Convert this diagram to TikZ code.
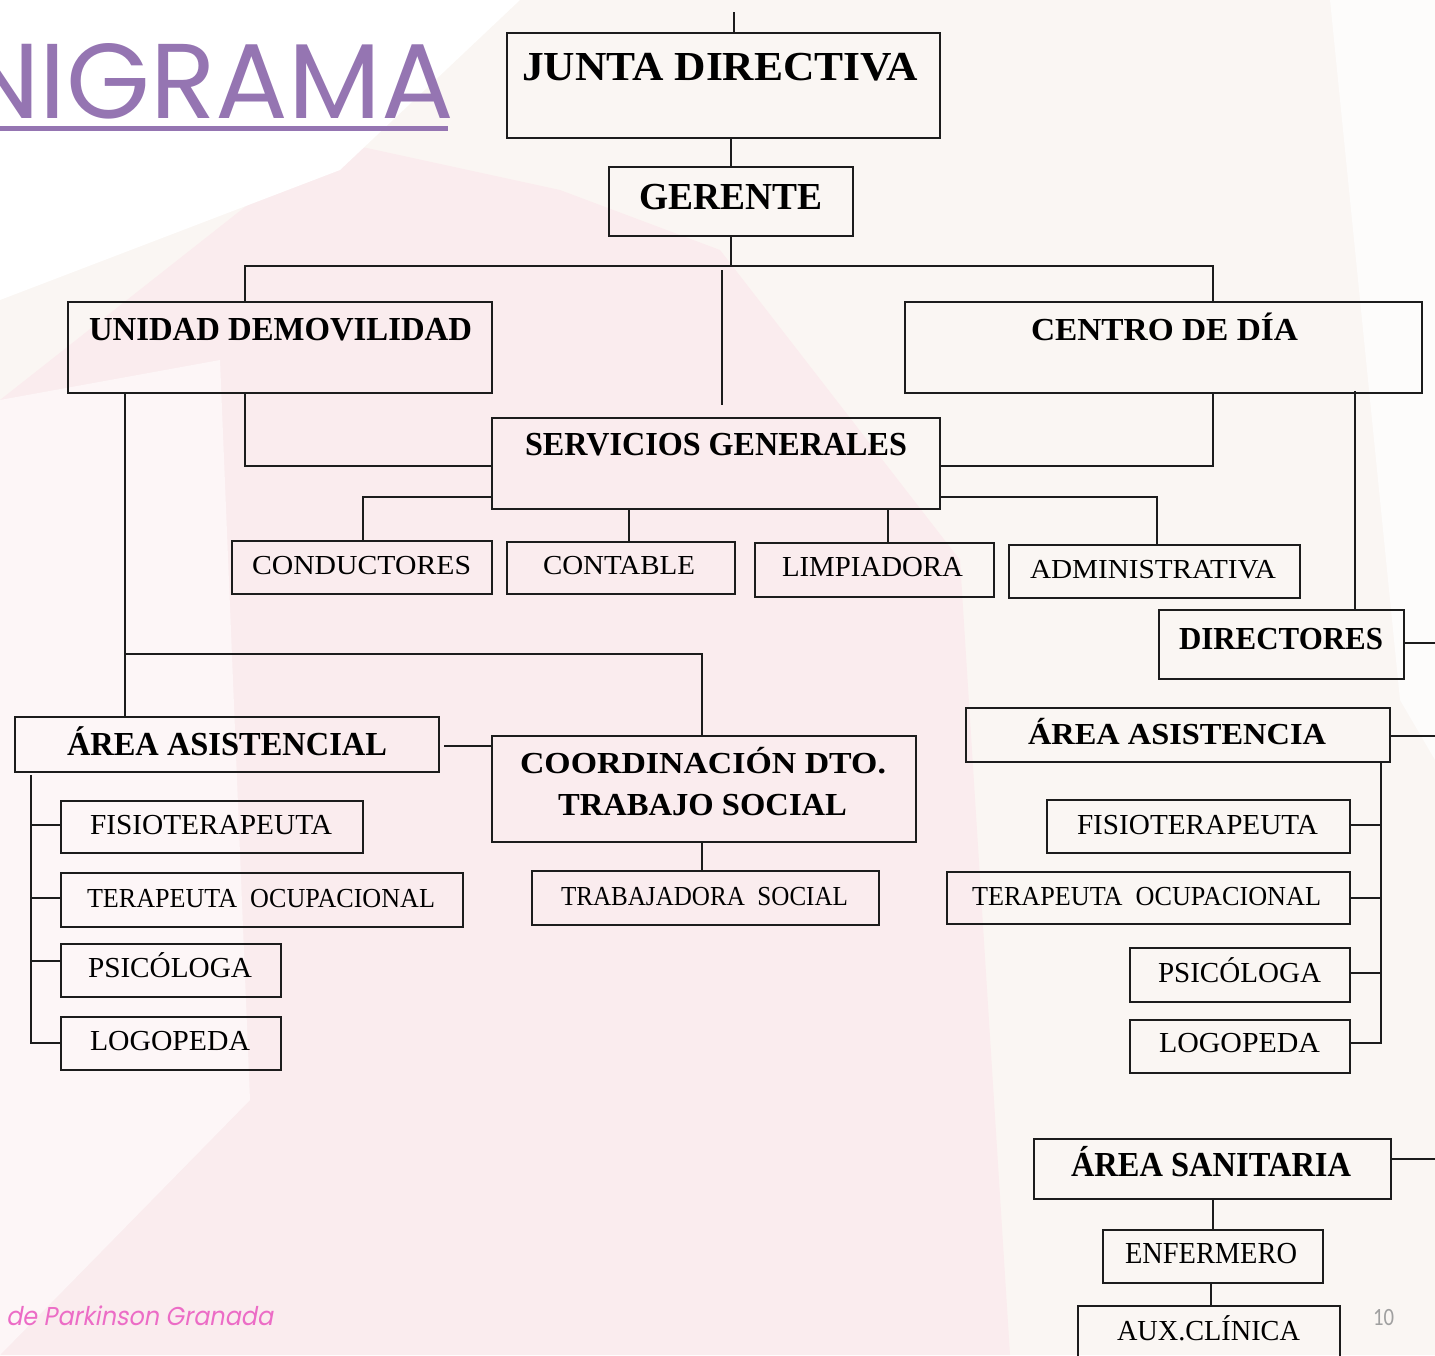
\documentclass[tikz,border=0pt]{standalone}
\usepackage{fontspec}
\usepackage{graphicx}
\setmainfont{Liberation Serif}
\newfontfamily\titlefont{Poppins}
\newfontfamily\footfont[FakeSlant=0.2]{Poppins}
\newfontfamily\numfont{Carlito}
\definecolor{titlepurple}{RGB}{149,117,178}
\definecolor{footpink}{RGB}{236,108,198}
\definecolor{linec}{RGB}{28,28,28}
\definecolor{bgbase}{RGB}{250,246,243}
\definecolor{bgpink}{RGB}{250,236,238}
\definecolor{numgrey}{RGB}{160,160,160}
\newsavebox\ttlbox
\newlength\ttlw
\newlength\ttlh
\newcommand\obox[5]{\node[orgbox, minimum width={(#4)-(#2)}, minimum height={(#5)-(#3)}] (#1) at ({((#2)+(#4))/2},{((#3)+(#5))/2}) {};}
\newcommand\mylbl[6]{\node[lab] (#1) at (#2,#3) {\resizebox{#4pt}{#5pt}{\smash{#6}\vphantom{H}}};}
\begin{document}
\begin{tikzpicture}[x=1pt,y=-1pt,
  orgbox/.style={draw=linec, line width=2pt, inner sep=0pt, outer sep=0pt},
  lab/.style={inner sep=0pt, outer sep=0pt, anchor=south west, text=black},
  conn/.style={draw=linec, line width=1.8pt},
]
\useasboundingbox (0,0) rectangle (1435,1355);
\clip (0,0) rectangle (1435,1355);
% background
\fill[bgbase] (0,0) rectangle (1435,1355);
\fill[bgpink] (330,140) -- (560,190) -- (720,250) -- (960,560) -- (1010,1355) -- (0,1355) -- (0,400) -- cycle;
\fill[white!55!bgpink] (0,400) -- (220,360) -- (250,1100) -- (0,1355) -- cycle;
\fill[white] (0,0) -- (520,0) -- (340,170) -- (0,300) -- cycle;
\fill[white!70!bgbase] (1330,0) -- (1435,0) -- (1435,760) -- (1400,700) -- cycle;

% title
\node[inner sep=0pt, outer sep=0pt, anchor=south east, text=titlepurple] (title) at (454,119)
  {\titlefont\fontsize{70}{80}\selectfont\sbox\ttlbox{IGRAMA}\setlength\ttlw{\wd\ttlbox}\setlength\ttlh{\ht\ttlbox}\pgfmathsetmacro\tsx{414/\ttlw}\pgfmathsetmacro\tsy{75/\ttlh}\scalebox{\tsx}[\tsy]{ORGANIGRAMA}};
\coordinate (u1) at (0,128.5);
\coordinate (u2) at (448,128.5);
\draw[titlepurple, line width=4.6pt] (u1) -- (u2);

% boxes
\obox{jd}{507}{33}{940}{138}
\obox{ger}{609}{167}{853}{236}
\obox{um}{68}{302}{492}{393}
\obox{cd}{905}{302}{1422}{393}
\obox{sg}{492}{418}{940}{509}
\obox{cond}{232}{541}{492}{594}
\obox{cont}{507}{542}{735}{594}
\obox{limp}{755}{543}{994}{597}
\obox{adm}{1009}{545}{1300}{598}
\obox{dir}{1159}{610}{1404}{679}
\obox{aa}{15}{717}{439}{772}
\obox{coord}{492}{736}{916}{842}
\obox{ts}{532}{871}{879}{925}
\obox{fisa}{61}{801}{363}{853}
\obox{tera}{61}{873}{463}{927}
\obox{psia}{61}{944}{281}{997}
\obox{logoa}{61}{1017}{281}{1070}
\obox{aab}{966}{708}{1390}{762}
\obox{fisb}{1047}{800}{1350}{853}
\obox{terb}{947}{872}{1350}{924}
\obox{psib}{1130}{948}{1350}{1002}
\obox{logob}{1130}{1020}{1350}{1073}
\obox{as}{1034}{1139}{1391}{1199}
\obox{enf}{1103}{1230}{1323}{1283}
\obox{aux}{1078}{1306}{1340}{1362}

% labels
\mylbl{tjd}{522}{80}{396}{27}{\bfseries JUNTA DIRECTIVA}
\mylbl{tger}{639}{209}{183}{25}{\bfseries GERENTE}
\mylbl{tum}{89}{340}{383}{22}{\bfseries UNIDAD DEMOVILIDAD}
\mylbl{tcd}{1031}{340}{267}{21}{\bfseries CENTRO DE DÍA}
\mylbl{tsg}{525}{455}{382}{22}{\bfseries SERVICIOS GENERALES}
\mylbl{tcond}{252}{574}{219}{18}{CONDUCTORES}
\mylbl{tcont}{543}{574}{152}{18}{CONTABLE}
\mylbl{tlimp}{782}{576}{181}{19}{LIMPIADORA}
\mylbl{tadm}{1030}{578}{246}{18}{ADMINISTRATIVA}
\mylbl{tdir}{1179}{649}{204}{21}{\bfseries DIRECTORES}
\mylbl{taa}{67}{755}{320}{22}{\bfseries ÁREA ASISTENCIAL}
\mylbl{tcoa}{520}{773}{366}{20}{\bfseries COORDINACIÓN DTO.}
\mylbl{tcob}{558}{815}{289}{21}{\bfseries TRABAJO SOCIAL}
\mylbl{tts}{561}{905}{287}{18}{TRABAJADORA\ \ SOCIAL}
\mylbl{tfisa}{90}{834}{242}{19}{FISIOTERAPEUTA}
\mylbl{ttera}{87}{907}{348}{18}{TERAPEUTA\ \ OCUPACIONAL}
\mylbl{tpsia}{88}{977}{164}{19}{PSICÓLOGA}
\mylbl{tlogoa}{90}{1050}{160}{19}{LOGOPEDA}
\mylbl{taab}{1028}{744}{298}{20}{\bfseries ÁREA ASISTENCIA}
\mylbl{tfisb}{1077}{834}{241}{19}{FISIOTERAPEUTA}
\mylbl{tterb}{972}{905}{349}{18}{TERAPEUTA\ \ OCUPACIONAL}
\mylbl{tpsib}{1158}{982}{163}{19}{PSICÓLOGA}
\mylbl{tlogob}{1159}{1052}{161}{19}{LOGOPEDA}
\mylbl{tas}{1071}{1176}{280}{23}{\bfseries ÁREA SANITARIA}
\mylbl{tenf}{1125}{1263}{172}{20}{ENFERMERO}
\mylbl{taux}{1117}{1340}{183}{19}{AUX.CLÍNICA}

% connectors
\coordinate (top) at (734,12);
\draw[conn] (top) -- (top |- jd.north);
\draw[conn] (ger.north) -- (ger.north |- jd.south);
\coordinate (h1) at (245,266);
\coordinate (h2) at (1213,266);
\draw[conn] (ger.south) -- (ger.south |- h1);
\draw[conn] (h1 |- um.north) -- (h1) -- (h2) -- (h2 |- cd.north);
\coordinate (v1) at (722,270);
\coordinate (v2) at (722,405);
\draw[conn] (v1) -- (v2);
\coordinate (a1) at (245,466);
\draw[conn] (a1 |- um.south) -- (a1) -- (a1 -| sg.west);
\coordinate (a2) at (1213,466);
\draw[conn] (a2 |- cd.south) -- (a2) -- (a2 -| sg.east);
\coordinate (a3) at (363,497);
\draw[conn] (a3 -| sg.west) -- (a3) -- (a3 |- cond.north);
\coordinate (a4) at (629,525);
\draw[conn] (a4 |- sg.south) -- (a4 |- cont.north);
\coordinate (a5) at (888,525);
\draw[conn] (a5 |- sg.south) -- (a5 |- limp.north);
\coordinate (a6) at (1157,497);
\draw[conn] (a6 -| sg.east) -- (a6) -- (a6 |- adm.north);
\coordinate (a7) at (1355,391);
\draw[conn] (a7) -- (a7 |- dir.north);
\coordinate (e1) at (1435,643);
\draw[conn] (e1 -| dir.east) -- (e1);
\coordinate (a8) at (125,654);
\coordinate (a9) at (702,654);
\draw[conn] (a8 |- um.south) -- (a8 |- aa.north);
\draw[conn] (a8) -- (a9) -- (a9 |- coord.north);
\coordinate (a10) at (444,746);
\draw[conn] (a10) -- (a10 -| coord.west);
\draw[conn] (a9 |- coord.south) -- (a9 |- ts.north);
% left list
\coordinate (l0) at (31,775);
\coordinate (l1) at (31,825);
\coordinate (l2) at (31,898);
\coordinate (l3) at (31,961);
\coordinate (l4) at (31,1043);
\draw[conn] (l0) -- (l4) -- (l4 -| logoa.west);
\draw[conn] (l1) -- (l1 -| fisa.west);
\draw[conn] (l2) -- (l2 -| tera.west);
\draw[conn] (l3) -- (l3 -| psia.west);
% right list
\coordinate (r0) at (1381,762);
\coordinate (r1) at (1381,825);
\coordinate (r2) at (1381,898);
\coordinate (r3) at (1381,973);
\coordinate (r4) at (1381,1043);
\draw[conn] (r0) -- (r4) -- (r4 -| logob.east);
\draw[conn] (r1) -- (r1 -| fisb.east);
\draw[conn] (r2) -- (r2 -| terb.east);
\draw[conn] (r3) -- (r3 -| psib.east);
\coordinate (e2) at (1435,736);
\draw[conn] (e2 -| aab.east) -- (e2);
% sanitaria
\coordinate (e3) at (1435,1159);
\draw[conn] (e3 -| as.east) -- (e3);
\coordinate (c1) at (1213,1215);
\draw[conn] (c1 |- as.south) -- (c1 |- enf.north);
\coordinate (c2) at (1211,1295);
\draw[conn] (c2 |- enf.south) -- (c2 |- aux.north);

% footer
\node[lab, text=footpink] (foot) at (6,1325) {\resizebox{267pt}{18pt}{\smash{\footfont de Parkinson Granada}\vphantom{\footfont H}}};
\node[lab, text=numgrey] (pnum) at (1373,1325) {\resizebox{21pt}{16pt}{\smash{\numfont 10}\vphantom{\numfont 1}}};
\end{tikzpicture}
\end{document}
